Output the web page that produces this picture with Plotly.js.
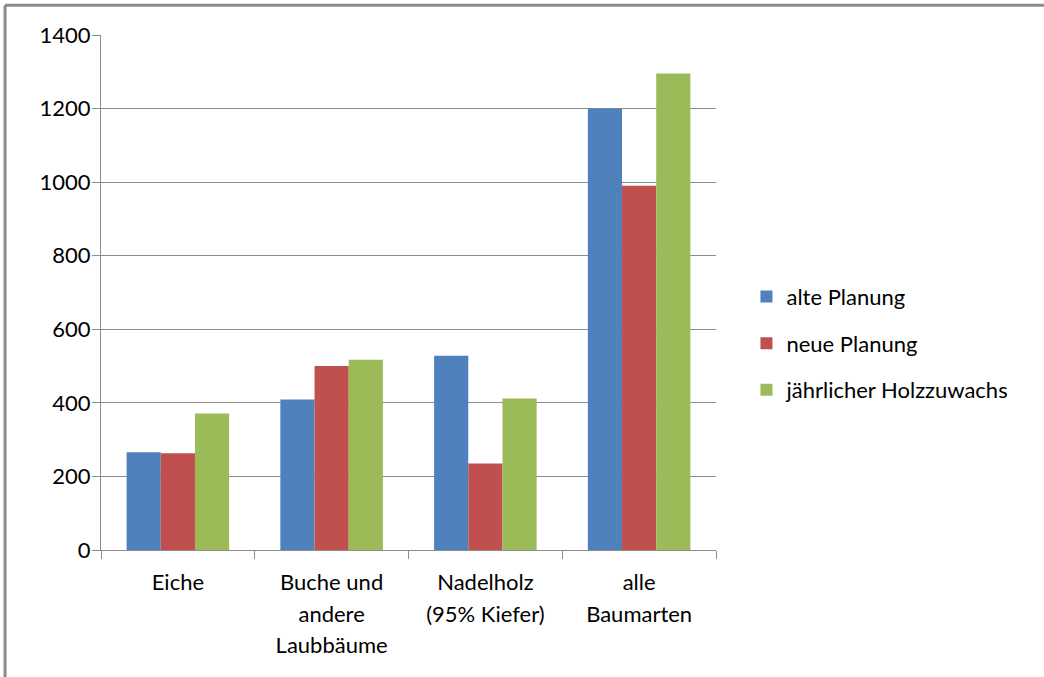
<!DOCTYPE html>
<html>
<head>
<meta charset="utf-8">
<script src="https://cdn.plot.ly/plotly-3.0.1.min.js"></script>
<style>html,body{margin:0;padding:0;background:#fff;}#chart{width:1044px;height:677px;}</style>
</head>
<body>
<div id="chart"></div>
<script>
const categories = ["Eiche", "Buche und<br>andere<br>Laubbäume", "Nadelholz<br>(95% Kiefer)", "alle<br>Baumarten"];
const seriesNames = ["alte Planung", "neue Planung", "jährlicher Holzzuwachs"];
const altePlanung = [266, 409, 528, 1200];
const neuePlanung = [263, 500, 235, 990];
const holzzuwachs = [371, 517, 412, 1295];
const yTicks = [0, 200, 400, 600, 800, 1000, 1200, 1400];
const colors = ["#4F81BD", "#C0504D", "#9BBB59"];

const allValues = [altePlanung, neuePlanung, holzzuwachs];
const traces = allValues.map((vals, i) => ({
  type: "bar",
  name: seriesNames[i],
  x: categories,
  y: vals,
  legendgroup: "g" + i,
  marker: {color: colors[i], line: {width: 0}},
  hoverinfo: "x+y"
}));

const tickText = categories.map(c => c.split("<br>").map(l => '<span style="font-size:22px">' + l + '</span>').join("<br>"));

const gridColor = "#8c8c8c";
const layout = {
  width: 1044, height: 677,
  margin: {l: 101, r: 328, t: 35, b: 127},
  paper_bgcolor: "#fff", plot_bgcolor: "#fff",
  font: {family: "Lato, 'Open Sans', sans-serif", size: 22, color: "#000"},
  barmode: "group",
  bargap: 0.333, bargroupgap: 0,
  showlegend: true,
  legend: {
    xref: "container", yref: "container",
    x: 0.715, y: 0.493, xanchor: "left", yanchor: "middle",
    font: {size: 22, color: "#000"},
    traceorder: "grouped", tracegroupgap: 15,
    itemwidth: 30, bgcolor: "rgba(0,0,0,0)"
  },
  xaxis: {
    type: "category",
    tickmode: "array", tickvals: categories, ticktext: tickText,
    tickfont: {size: 24.6, color: "#000"},
    showline: true, linecolor: gridColor, linewidth: 1,
    ticks: "outside", tickson: "boundaries", ticklen: 8, tickcolor: gridColor,
    ticklabelstandoff: 9,
    showgrid: false, zeroline: false, fixedrange: true
  },
  yaxis: {
    range: [0, 1400],
    tickmode: "array", tickvals: yTicks,
    tickfont: {size: 22, color: "#000"},
    showline: true, linecolor: gridColor, linewidth: 1,
    ticks: "outside", ticklen: 8, tickcolor: gridColor,
    ticklabelstandoff: -3,
    showgrid: true, gridcolor: gridColor, gridwidth: 1,
    zeroline: false, fixedrange: true
  },
  shapes: [
    {type: "line", xref: "paper", yref: "paper", x0: -0.156, x1: 1.6, y0: 1.058, y1: 1.058, line: {color: "#8a8a8a", width: 3}},
    {type: "line", xref: "paper", yref: "paper", x0: -0.156, x1: -0.156, y0: 1.058, y1: -0.3, line: {color: "#8a8a8a", width: 3}}
  ]
};

Plotly.newPlot("chart", traces, layout, {displayModeBar: false, staticPlot: true});
</script>
</body>
</html>
